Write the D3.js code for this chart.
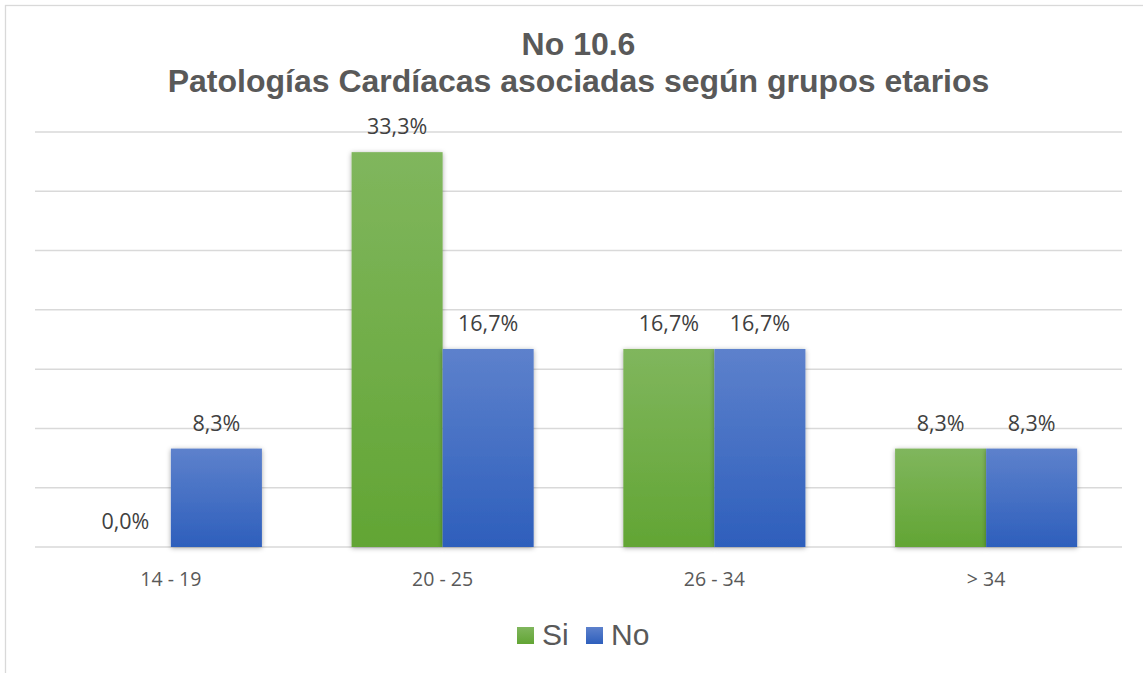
<!DOCTYPE html>
<html>
<head>
<meta charset="utf-8">
<script src="https://cdn.jsdelivr.net/npm/d3@7"></script>
<style>
  body { margin: 0; background: #fff; }
  svg { display: block; }
</style>
</head>
<body>
<div id="chart"></div>
<script>
// data
var categories = ["14 - 19", "20 - 25", "26 - 34", "> 34"];
var seriesNames = ["Si", "No"];
var siValues = [0.0, 33.3, 16.7, 8.3];
var noValues = [8.3, 16.7, 16.7, 8.3];
var yTicks = [0, 5, 10, 15, 20, 25, 30, 35];
var titleLines = ["No 10.6", "Patologías Cardíacas asociadas según grupos etarios"];

var width = 1143, height = 673;
var margin = { top: 132, right: 21, bottom: 126, left: 35 };

var svg = d3.select("#chart").append("svg")
    .attr("width", width)
    .attr("height", height);

var defs = svg.append("defs");

// gradients for the bars
var gradColors = { Si: ["#80b65d", "#62a534"], No: ["#5d81cc", "#2e5fbc"] };
seriesNames.forEach(function(s) {
    var g = defs.append("linearGradient")
        .attr("id", "grad-" + s)
        .attr("x1", 0).attr("y1", 0).attr("x2", 0).attr("y2", 1);
    g.append("stop").attr("offset", "0%").attr("stop-color", gradColors[s][0]);
    g.append("stop").attr("offset", "100%").attr("stop-color", gradColors[s][1]);
});

var shadow = defs.append("filter").attr("id", "shadow")
    .attr("x", "-20%").attr("y", "-20%").attr("width", "140%").attr("height", "140%");
shadow.append("feDropShadow")
    .attr("dx", 0).attr("dy", 1).attr("stdDeviation", 2.5)
    .attr("flood-color", "#000").attr("flood-opacity", 0.35);

// outer border
svg.append("rect")
    .attr("x", 5.5).attr("y", 5.5)
    .attr("width", width - 3).attr("height", height)
    .attr("fill", "none").attr("stroke", "#d9d9d9").attr("stroke-width", 1.3);

var x0 = d3.scaleBand()
    .domain(categories)
    .range([margin.left, width - margin.right])
    .paddingInner(0.33)
    .paddingOuter(0.165);

var x1 = d3.scaleBand()
    .domain(seriesNames)
    .range([0, x0.bandwidth()]);

var y = d3.scaleLinear()
    .domain([0, 35])
    .range([height - margin.bottom, margin.top]);

// gridlines
svg.append("g").selectAll("line")
    .data(yTicks)
    .enter().append("line")
    .attr("x1", margin.left).attr("x2", width - margin.right)
    .attr("y1", function(d) { return y(d); })
    .attr("y2", function(d) { return y(d); })
    .attr("stroke", "#d9d9d9").attr("stroke-width", 1.5);

// title
svg.append("g").selectAll("text")
    .data(titleLines)
    .enter().append("text")
    .attr("x", 578.5)
    .attr("y", function(d, i) { return 55 + i * 37; })
    .attr("text-anchor", "middle")
    .attr("font-family", "'Liberation Sans', Arial, sans-serif")
    .attr("font-weight", "bold")
    .attr("font-size", 32)
    .attr("fill", "#595959")
    .text(function(d) { return d; });

var rows = categories.map(function(c, i) {
    return { cat: c, values: [
        { key: "Si", value: siValues[i] },
        { key: "No", value: noValues[i] }
    ] };
});

var groups = svg.append("g").selectAll("g")
    .data(rows)
    .enter().append("g")
    .attr("transform", function(d) { return "translate(" + x0(d.cat) + ",0)"; });

groups.selectAll("rect")
    .data(function(d) { return d.values; })
    .enter().append("rect")
    .attr("x", function(d) { return x1(d.key); })
    .attr("y", function(d) { return y(d.value); })
    .attr("width", x1.bandwidth())
    .attr("height", function(d) { return y(0) - y(d.value); })
    .attr("fill", function(d) { return "url(#grad-" + d.key + ")"; })
    .attr("filter", function(d) { return d.value > 0 ? "url(#shadow)" : null; });

groups.selectAll("text")
    .data(function(d) { return d.values; })
    .enter().append("text")
    .attr("x", function(d) { return x1(d.key) + x1.bandwidth() / 2; })
    .attr("y", function(d) { return y(d.value) - 18; })
    .attr("text-anchor", "middle")
    .attr("font-family", "'Open Sans', sans-serif")
    .attr("font-size", 21.5)
    .attr("fill", "#404040")
    .text(function(d) { return d3.format(".1f")(d.value).replace(".", ",") + "%"; });

// x axis labels
svg.append("g").selectAll("text")
    .data(categories)
    .enter().append("text")
    .attr("x", function(d) { return x0(d) + x0.bandwidth() / 2; })
    .attr("y", 586)
    .attr("text-anchor", "middle")
    .attr("font-family", "'Open Sans', sans-serif")
    .attr("font-size", 19.5)
    .attr("fill", "#595959")
    .text(function(d) { return d; });

// legend
var legendPos = [517, 586];
var legend = svg.append("g").selectAll("g")
    .data(seriesNames)
    .enter().append("g")
    .attr("transform", function(d, i) { return "translate(" + legendPos[i] + ",627)"; });

legend.append("rect")
    .attr("width", 17).attr("height", 17)
    .attr("fill", function(d) { return "url(#grad-" + d + ")"; });

legend.append("text")
    .attr("x", 25).attr("y", 18)
    .attr("font-family", "'Liberation Sans', Arial, sans-serif")
    .attr("font-size", 30)
    .attr("fill", "#595959")
    .text(function(d) { return d; });
</script>
</body>
</html>
